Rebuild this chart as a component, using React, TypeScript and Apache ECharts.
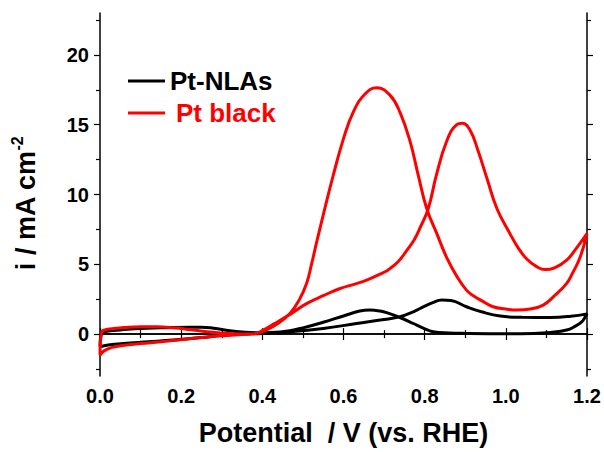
import React, { useEffect, useRef } from 'react';
import * as echarts from 'echarts';

// Pt black: anodic (forward) scan 0 -> 1.2 V
const redFwdV = [0, 0.01, 0.03, 0.06, 0.1, 0.15, 0.22, 0.3, 0.35, 0.38, 0.4, 0.43, 0.47, 0.51, 0.55, 0.59, 0.63, 0.66, 0.69, 0.71, 0.735, 0.756, 0.775, 0.79, 0.809, 0.829, 0.854, 0.879, 0.893, 0.912, 0.932, 0.953, 0.978, 1.01, 1.03, 1.051, 1.075, 1.097, 1.12, 1.15, 1.175, 1.2];
const redFwdI = [-1.5, -1.2, -0.95, -0.8, -0.67, -0.55, -0.33, -0.12, -0.03, 0.02, 0.25, 0.75, 1.45, 2.2, 2.75, 3.25, 3.6, 3.9, 4.3, 4.6, 5.2, 6.0, 6.8, 7.7, 9.0, 11.4, 13.8, 15.0, 15.1, 14.6, 13.1, 11.2, 9.0, 7.2, 6.2, 5.4, 4.85, 4.62, 4.75, 5.3, 6.2, 7.2];
// Pt black: cathodic (backward) scan 1.2 -> 0 V
const redBwdV = [1.183, 1.165, 1.15, 1.12, 1.092, 1.06, 1.027, 1.0, 0.969, 0.94, 0.92, 0.903, 0.88, 0.854, 0.83, 0.805, 0.784, 0.764, 0.739, 0.715, 0.682, 0.653, 0.624, 0.6, 0.575, 0.55, 0.534, 0.522, 0.509, 0.49, 0.468, 0.44, 0.41, 0.38, 0.35, 0.3, 0.263, 0.22, 0.18, 0.14, 0.1, 0.06, 0.03, 0.012, 0.004, 0];
const redBwdI = [5.5, 4.4, 3.63, 2.75, 2.08, 1.8, 1.72, 1.8, 1.96, 2.4, 2.75, 3.15, 4.1, 5.5, 7.2, 9.0, 11.4, 13.8, 15.9, 17.1, 17.65, 17.2, 15.9, 14.0, 11.4, 8.52, 6.6, 5.1, 3.63, 2.4, 1.48, 0.8, 0.3, 0.02, 0.0, 0.08, 0.17, 0.33, 0.45, 0.52, 0.53, 0.47, 0.38, 0.3, 0.17, -1.5];

// Pt-NLAs: forward scan
const blackFwdV = [0, 0.02, 0.057, 0.12, 0.18, 0.25, 0.304, 0.35, 0.4, 0.468, 0.55, 0.632, 0.7, 0.739, 0.772, 0.8, 0.82, 0.842, 0.865, 0.903, 0.94, 0.986, 1.04, 1.109, 1.16, 1.2];
const blackFwdI = [-0.9, -0.78, -0.67, -0.55, -0.43, -0.25, -0.07, 0, 0.05, 0.16, 0.4, 0.76, 1.05, 1.24, 1.6, 2.0, 2.25, 2.44, 2.4, 1.96, 1.6, 1.29, 1.2, 1.19, 1.28, 1.45];
// Pt-NLAs: backward scan
const blackBwdV = [1.195, 1.187, 1.17, 1.15, 1.11, 1.068, 1.0, 0.903, 0.86, 0.821, 0.795, 0.772, 0.739, 0.71, 0.69, 0.665, 0.64, 0.6, 0.55, 0.5, 0.468, 0.42, 0.386, 0.35, 0.32, 0.28, 0.25, 0.222, 0.15, 0.099, 0.05, 0.025, 0.004, 0];
const blackBwdI = [1.2, 0.88, 0.55, 0.29, 0.12, 0.05, 0.03, 0.05, 0.08, 0.17, 0.45, 0.76, 1.19, 1.5, 1.65, 1.72, 1.65, 1.3, 0.85, 0.45, 0.25, 0.12, 0.1, 0.15, 0.24, 0.42, 0.5, 0.5, 0.45, 0.41, 0.3, 0.24, 0.05, -0.9];

const xTickValues = [0, 0.2, 0.4, 0.6, 0.8, 1.0, 1.2];
const yTickValues = [0, 5, 10, 15, 20];
const yMinorTickValues = [-2.5, 2.5, 7.5, 12.5, 17.5, 22.5];

const seriesNames = ['Pt-NLAs', 'Pt black'];
const seriesColors = ['#000000', '#ff0000'];

const zip = (a: number[], b: number[]) => a.map((v, i) => [v, b[i]]);

const FONT = '"Liberation Sans", Arial, sans-serif';

export default function App() {
  const ref = useRef<HTMLDivElement>(null);
  useEffect(() => {
    if (!ref.current) return;
    const chart = echarts.init(ref.current, undefined, { renderer: 'svg' });
    const blackData = [...zip(blackFwdV, blackFwdI), ...zip(blackBwdV, blackBwdI)];
    const redData = [...zip(redFwdV, redFwdI), ...zip(redBwdV, redBwdI)];
    const axisLine = { show: true, lineStyle: { color: '#000', width: 1.5 } };
    const baseX = {
      type: 'value' as const,
      min: 0,
      max: 1.2,
      interval: 0.2,
      splitLine: { show: false },
      axisLine,
      axisTick: { show: true, inside: false, length: 6, lineStyle: { color: '#000', width: 1.2 } },
      minorTick: { show: true, splitNumber: 2, length: 4, lineStyle: { color: '#000', width: 1.2 } },
    };
    const baseY = {
      type: 'value' as const,
      min: -3,
      max: 23,
      splitLine: { show: false },
      axisLine,
    };
    chart.setOption({
      animation: false,
      backgroundColor: '#fff',
      grid: { left: 100, right: 17, top: 13, bottom: 76, containLabel: false },
      legend: {
        orient: 'vertical',
        left: 128,
        top: 68,
        padding: 0,
        itemWidth: 37,
        itemHeight: 3,
        itemGap: 6,
        icon: 'rect',
        textStyle: { fontSize: 26, fontWeight: 'bold', fontFamily: FONT, padding: [0, 0, 6, 0] },
        data: [
          { name: seriesNames[0], textStyle: { color: seriesColors[0] } },
          { name: seriesNames[1], textStyle: { color: seriesColors[1], padding: [0, 0, 6, 6] } },
        ],
      },
      xAxis: [
        {
          ...baseX,
          position: 'bottom',
          name: 'Potential  / V (vs. RHE)',
          nameLocation: 'middle',
          nameGap: 43,
          nameTextStyle: { fontSize: 27, fontWeight: 'bold', fontFamily: FONT, color: '#000' },
          axisLabel: {
            margin: 10,
            fontSize: 20,
            fontWeight: 'bold',
            fontFamily: FONT,
            color: '#000',
            customValues: xTickValues,
            formatter: (v: number) => v.toFixed(1),
          },
        },
        {
          ...baseX,
          position: 'top',
          axisLabel: { show: false },
        },
      ],
      yAxis: [
        {
          ...baseY,
          position: 'left',
          name: '{m|i / mA cm}{s|-2}',
          nameLocation: 'middle',
          nameRotate: 90,
          nameGap: 61,
          nameTextStyle: {
            padding: [0, 18, 0, 0],
            rich: {
              m: { fontSize: 27, fontWeight: 'bold', fontFamily: FONT, color: '#000', lineHeight: 30, verticalAlign: 'bottom' },
              s: { fontSize: 16, fontWeight: 'bold', fontFamily: FONT, color: '#000', lineHeight: 30, verticalAlign: 'top' },
            },
          },
          axisTick: { show: true, length: 6, customValues: yTickValues, lineStyle: { color: '#000', width: 1.2 } },
          axisLabel: {
            margin: 11,
            fontSize: 20,
            fontWeight: 'bold',
            fontFamily: FONT,
            color: '#000',
            customValues: yTickValues,
          },
        },
        {
          ...baseY,
          position: 'left',
          axisLine: { show: false },
          axisTick: { show: true, length: 4, customValues: yMinorTickValues, lineStyle: { color: '#000', width: 1.2 } },
          axisLabel: { show: false, customValues: yMinorTickValues },
        },
        {
          ...baseY,
          position: 'right',
          axisTick: { show: true, length: 6, customValues: yTickValues, lineStyle: { color: '#000', width: 1.2 } },
          axisLabel: { show: false, customValues: yTickValues },
        },
        {
          ...baseY,
          position: 'right',
          axisLine: { show: false },
          axisTick: { show: true, length: 4, customValues: yMinorTickValues, lineStyle: { color: '#000', width: 1.2 } },
          axisLabel: { show: false, customValues: yMinorTickValues },
        },
      ],
      series: [
        {
          name: seriesNames[0],
          type: 'line',
          data: blackData,
          showSymbol: false,
          symbol: 'none',
          smooth: 0.45,
          lineStyle: { color: seriesColors[0], width: 3 },
          itemStyle: { color: seriesColors[0] },
          z: 3,
        },
        {
          name: seriesNames[1],
          type: 'line',
          data: redData,
          showSymbol: false,
          symbol: 'none',
          smooth: 0.45,
          lineStyle: { color: seriesColors[1], width: 3 },
          itemStyle: { color: seriesColors[1] },
          z: 4,
        },
      ],
    });
    return () => chart.dispose();
  }, []);
  return <div ref={ref} style={{ width: 604, height: 452, position: 'absolute', left: 0, top: 0 }} />;
}
